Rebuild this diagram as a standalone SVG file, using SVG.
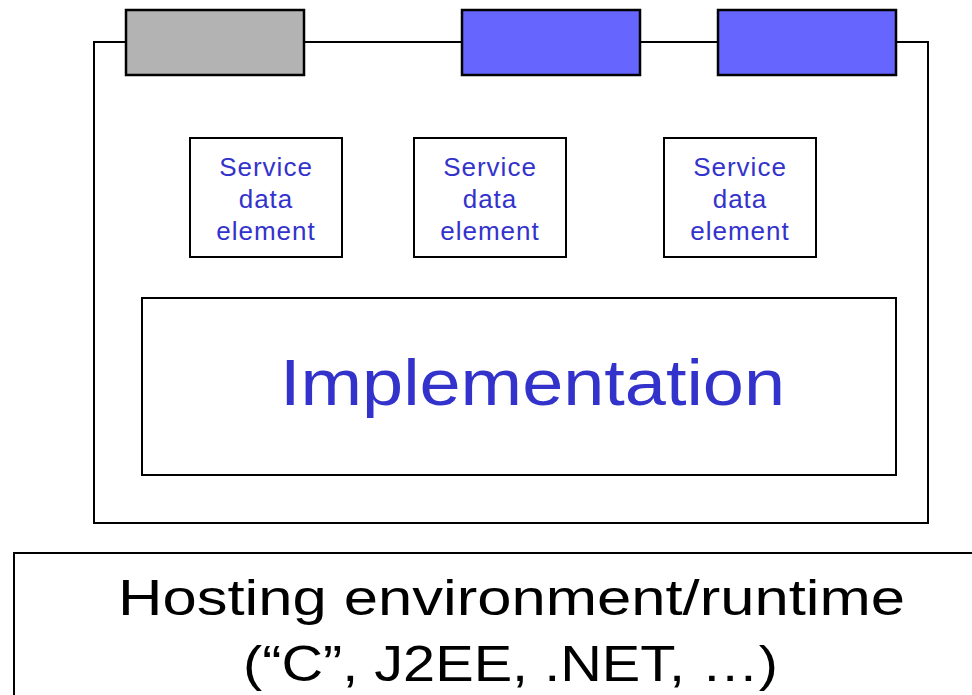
<svg xmlns="http://www.w3.org/2000/svg" width="972" height="695" viewBox="0 0 972 695">
  <style>
    .box { fill: #ffffff; stroke: #000000; stroke-width: 2; }
    .port { stroke: #000000; stroke-width: 2.5; }
    .gray { fill: #b3b3b3; }
    .blue { fill: #6666ff; }
    .line { fill: none; stroke: #000000; stroke-width: 2; }
    .sde { font-family: "Liberation Sans", Arial, sans-serif; font-size: 26px; letter-spacing: 1px; fill: #3333cc; text-anchor: middle; }
    .impl { font-family: "Liberation Sans", Arial, sans-serif; font-size: 65px; fill: #3333cc; }
    .host { font-family: "Liberation Sans", Arial, sans-serif; font-size: 50px; fill: #000000; }
  </style>
  <rect width="972" height="695" fill="#ffffff"/>

  <!-- service container outline -->
  <g id="connectors">
    <path class="line" d="M94,523 V42 H928 V523 Z"/>
  </g>

  <!-- ports along the top edge -->
  <g id="port-gray"><rect class="port gray" x="126" y="10" width="178" height="65"/></g>
  <g id="port-blue-1"><rect class="port blue" x="462" y="10" width="178" height="65"/></g>
  <g id="port-blue-2"><rect class="port blue" x="718" y="10" width="178" height="65"/></g>

  <!-- service data elements -->
  <g id="sde-1">
    <rect class="box" x="190" y="138" width="152" height="119"/>
    <text class="sde" x="266" y="176">Service</text>
    <text class="sde" x="266" y="208">data</text>
    <text class="sde" x="266" y="240">element</text>
  </g>
  <g id="sde-2">
    <rect class="box" x="414" y="138" width="152" height="119"/>
    <text class="sde" x="490" y="176">Service</text>
    <text class="sde" x="490" y="208">data</text>
    <text class="sde" x="490" y="240">element</text>
  </g>
  <g id="sde-3">
    <rect class="box" x="664" y="138" width="152" height="119"/>
    <text class="sde" x="740" y="176">Service</text>
    <text class="sde" x="740" y="208">data</text>
    <text class="sde" x="740" y="240">element</text>
  </g>

  <!-- implementation -->
  <g id="implementation">
    <rect class="box" x="142" y="298" width="754" height="177"/>
    <text class="impl" x="280" y="405" textLength="505" lengthAdjust="spacingAndGlyphs">Implementation</text>
  </g>

  <!-- hosting environment -->
  <g id="hosting">
    <rect class="box" x="14" y="553" width="1000" height="200"/>
    <text class="host" x="118" y="615" textLength="787" lengthAdjust="spacingAndGlyphs">Hosting environment/runtime</text>
    <text class="host" x="243" y="681" textLength="535" lengthAdjust="spacingAndGlyphs">(“C”, J2EE, .NET, …)</text>
  </g>
</svg>
